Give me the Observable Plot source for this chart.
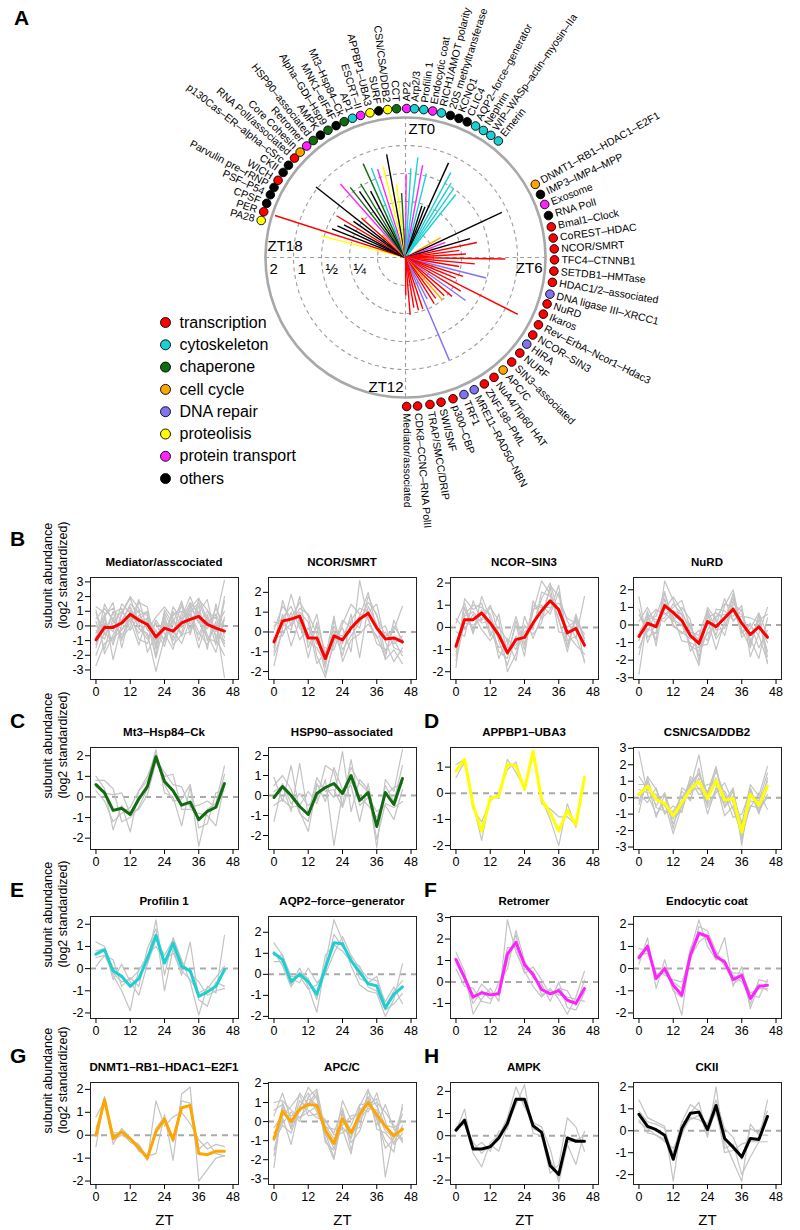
<!DOCTYPE html>
<html><head><meta charset="utf-8">
<script src="https://cdn.jsdelivr.net/npm/d3@7"></script>
<script src="https://cdn.jsdelivr.net/npm/@observablehq/plot@0.6"></script>
<style>
body{margin:0;background:#fff;}
#root{position:relative;width:800px;height:1230px;overflow:hidden;font-family:"Liberation Sans",Arial,sans-serif;}
.abs{position:absolute;}
.letter{font-weight:bold;font-size:21px;font-family:"Liberation Sans",Arial,sans-serif;}
.ptitle{font-weight:bold;font-size:11.5px;text-align:center;font-family:"Liberation Sans Narrow","Arial Narrow","Liberation Sans",sans-serif;white-space:nowrap;}
</style></head>
<body><div id="root"></div>
<script>
// ---------- Panel A data ----------
const categoryNames = ["transcription","cytoskeleton","chaperone","cell cycle","DNA repair","proteolisis","protein transport","others"];
const categoryColors = ["#ff0000","#1ccfd3","#116b11","#ffa500","#7f73f2","#ffff00","#ff22ff","#000000"];

const complexNames = ["PA28","PER","CPSF","PSF–P54","Parvulin pre–rRNP","WICH","CKII","p130Cas–ER–alpha–cSrc","RNA PolI/associated","Core Cohesin","Retromer","HSP90–associated","AMPK","Alpha–GDI–Hsp9","MNK1–eIF4F","Mt3–Hsp84–Ck","AP1","ESCRT–II","APPBP1–UBA3","SURF","CSN/CSA/DDB2","CCT","AP2","Arp2/3","Profilin 1","Endocytic coat","RICH1/AMOT polarity","20S methyltransferase","KCNQ1","CLIC4","AQP2–force–generator","Nephrin","WIP–WASp–actin–myosin–IIa","Emerin",
"DNMT1–RB1–HDAC1–E2F1","IMP3–IMP4–MPP","Exosome","RNA PolI","Bmal1–Clock","CoREST–HDAC","NCOR/SMRT","TFC4–CTNNB1","SETDB1–HMTase","HDAC1/2–associated","DNA ligase III–XRCC1","NuRD","Ikaros","Rev–ErbA–Ncor1–Hdac3","NCOR–SIN3","HIRA","NURF","SIN3–associated","APC/C","NuA4/Tip60 HAT","ZNF198–PML","MRE11–RAD50–NBN","TRF1","p300–CBP","SWI/SNF","TRAP/SMCC/DRIP","CDK8–CCNC–RNA PolII","Mediator/associated"];
const complexCategories = ["proteolisis","transcription","others","others","others","transcription","others","others","transcription","cell cycle","protein transport","chaperone","others","chaperone","others","chaperone","cytoskeleton","protein transport","proteolisis","others","proteolisis","chaperone","protein transport","cytoskeleton","cytoskeleton","protein transport","cytoskeleton","others","others","others","cytoskeleton","cytoskeleton","cytoskeleton","cytoskeleton",
"cell cycle","others","protein transport","others","transcription","transcription","transcription","transcription","transcription","transcription","DNA repair","transcription","transcription","transcription","transcription","DNA repair","transcription","transcription","cell cycle","transcription","transcription","DNA repair","DNA repair","transcription","transcription","transcription","transcription","transcription"];
const complexPhaseZT = [18.96,19.19,19.42,19.66,19.87,20.08,20.32,20.55,20.79,21.0,21.23,21.45,21.68,21.91,22.15,22.38,22.61,22.83,23.08,23.31,23.54,23.77,0.03,0.23,0.47,0.70,0.93,1.17,1.40,1.63,1.87,2.10,2.33,2.57,
4.04,4.33,4.61,4.91,5.21,5.50,5.78,6.06,6.35,6.64,6.95,7.21,7.49,7.79,8.09,8.37,8.66,8.97,9.27,9.57,9.87,10.17,10.46,10.76,11.08,11.37,11.69,11.97];
const complexAmplitude = [0.54,1.86,0.44,0.40,0.35,0.46,0.30,1.05,0.27,0.14,0.71,0.57,0.46,0.53,0.40,0.80,0.67,0.62,0.64,0.84,0.39,0.31,0.49,0.57,0.76,0.64,0.53,0.24,0.24,0.82,0.68,0.54,0.50,0.46,
0.17,0.87,0.18,0.33,0.38,0.24,0.28,0.74,0.35,0.24,0.49,0.28,0.24,1.41,0.31,0.39,0.28,0.24,0.25,0.22,0.24,0.20,0.99,0.24,0.24,0.22,0.26,0.16];

const ringAmplitudes = [0.125,0.25,0.5,1];
const outerAmplitude = 2;
const ringLabelValues = [2,1,0.5,0.25];
const ringLabelTexts = ["2","1","½","¼"];
const ztHours = [0,6,12,18];
const ztTexts = ["ZT0","ZT6","ZT12","ZT18"];

// ---------- Panels B-H data ----------
const timePoints = [0,3,6,9,12,15,18,21,24,27,30,33,36,39,42,45];
const xTicks = [0,12,24,36,48];

const mediatorMean = [-0.95,-0.1,-0.1,0.2,0.8,0.4,0.1,-0.75,-0.15,-0.35,0.2,0.45,0.65,0.1,-0.15,-0.35];
const mediatorGrey = [
[-0.5,0.8,1.2,0.3,1.5,0.9,-0.2,-1.2,0.5,-0.8,0.9,1.2,1.9,0.4,-0.6,-1.0],
[0.9,-0.6,0.2,1.0,0.3,1.1,0.7,-0.4,-0.9,0.4,-0.5,1.5,0.2,1.0,0.5,3.1],
[-2.7,-1.2,-0.8,-0.3,0.6,-0.5,0.3,-2.2,0.2,-1.0,0.1,0.8,-0.4,-1.3,0.3,-3.5],
[-1.5,0.5,-1.3,0.8,1.9,0.2,-0.7,-0.3,-1.4,0.7,1.3,-0.2,1.0,-0.6,-1.8,0.6],
[0.3,-1.6,0.6,-0.8,-0.1,1.6,1.3,-1.6,0.9,-0.3,-1.2,0.4,0.9,1.8,-0.9,-2.0],
[-1.0,0.2,-0.4,1.5,0.9,-0.9,-1.2,0.4,-0.5,-1.6,0.6,2.0,0.5,-0.2,1.2,0.0],
[1.3,0.9,-2.3,0.1,0.5,0.5,0.9,-0.9,-0.1,0.2,1.7,-0.6,1.4,-1.0,0.0,-1.4],
[-0.3,-0.9,1.0,-1.0,1.1,-0.2,-0.5,-3.1,-0.8,1.0,-0.1,1.1,-1.0,0.8,-1.3,1.7],
[0.5,1.2,0.4,-0.6,0.2,1.8,-0.3,0.6,1.3,0.5,-0.7,0.9,1.6,0.2,0.8,-0.5],
[-2.0,-0.4,0.9,1.2,-0.3,0.7,1.0,-1.4,0.3,-0.5,1.5,0.2,-0.6,0.6,-0.2,1.0],
[1.1,-1.9,-0.6,0.4,1.3,-0.1,-0.9,0.2,-1.1,1.3,0.4,1.6,0.8,-1.6,1.5,-0.8],
[-0.8,0.6,1.6,-1.5,0.8,0.3,0.5,-1.0,0.7,-1.3,-0.6,-0.4,1.8,1.1,-0.4,0.4],
[0.0,-0.5,-1.0,0.9,2.0,1.2,-1.8,-0.6,-0.3,0.8,1.0,0.7,-1.5,0.3,0.6,-1.2],
[-1.3,1.5,0.3,-0.2,0.4,-1.3,0.6,-2.0,1.1,0.1,0.3,1.3,0.3,-0.8,-1.1,2.0]];
const ncorSmrtMean = [-0.5,0.55,0.65,0.8,-0.3,-0.3,-1.35,-0.2,-0.4,0.2,0.65,0.95,0.2,-0.35,-0.3,-0.5];
const ncorSmrtGrey = [
[-1.7,0.2,1.9,0.4,-0.5,-0.8,-1.6,0.3,-0.6,0.9,-1.3,1.3,0.4,-1.4,-0.9,-1.6],
[0.1,1.3,0.7,1.5,0.8,-1.2,-2.3,-0.4,0.2,-1.0,2.6,0.6,-0.3,0.0,-0.6,-0.2],
[-1.0,0.9,-0.7,0.6,-1.3,0.5,-1.1,0.1,-1.2,0.5,0.2,1.8,0.8,-0.2,0.1,1.3],
[-0.3,-0.2,1.0,-0.4,0.2,-0.6,-0.8,-0.9,0.4,1.4,0.9,0.7,-0.6,-0.9,-0.4,-1.2],
[0.5,0.4,0.1,1.8,-0.8,0.3,-1.8,0.6,-0.9,-0.2,0.5,1.5,0.9,-1.1,0.3,-0.4],
[-0.8,1.6,0.3,1.0,0.5,-1.6,-1.0,-0.1,-0.2,0.6,1.2,1.0,1.4,-0.5,-1.5,-0.8],
[0.3,0.7,1.3,0.2,-0.3,0.9,-1.3,0.8,-1.5,-0.4,-0.1,0.4,-0.2,-1.3,0.6,-0.6],
[-1.2,0.0,0.4,1.2,0.9,-0.1,-2.1,-0.6,0.6,0.2,0.8,2.0,0.1,0.3,-0.8,-1.0]];
const ncorSin3Mean = [-0.85,0.35,0.35,0.65,0.2,-0.35,-1.15,-0.55,-0.45,0.2,0.75,1.2,0.8,-0.25,-0.05,-0.8];
const ncorSin3Grey = [
[-1.8,1.3,0.8,1.1,-0.2,-0.9,-0.8,0.5,-0.8,0.7,2.1,1.5,0.3,-0.8,0.4,-1.6],
[-0.2,-0.4,1.2,0.3,0.9,0.3,-2.0,-1.2,0.1,-0.3,0.2,1.9,1.4,0.3,-0.5,1.4],
[-1.3,0.9,-0.3,1.4,0.4,-1.1,-1.4,0.3,-1.0,0.8,1.0,0.6,1.6,-0.9,0.6,-0.5],
[0.4,-0.1,0.6,-0.1,-0.6,0.0,-0.6,-1.5,0.5,-0.5,0.5,1.8,-0.2,-0.3,-0.8,-1.2],
[-0.9,0.6,1.0,0.9,0.6,-0.6,-1.7,-0.4,-0.7,1.0,0.9,0.9,1.1,0.4,0.2,-0.9],
[-1.5,0.2,0.1,0.4,1.0,-0.3,-0.9,-0.8,-0.2,0.1,1.3,2.0,0.6,0.0,0.3,-0.3],
[0.2,1.1,-0.2,0.8,-0.4,0.6,-1.2,0.1,-1.3,1.2,0.4,0.8,1.9,-0.6,-0.4,-1.5],
[-1.1,0.5,0.7,0.2,0.3,-1.4,-0.5,-1.0,0.0,-0.1,1.6,1.4,0.4,-1.1,0.5,-0.6]];
const nurdMean = [-0.65,0.1,-0.1,1.1,0.7,0.25,-0.6,-1.05,0.2,-0.1,0.4,0.9,0.1,-0.55,-0.1,-0.7];
const nurdGrey = [
[-2.8,0.5,-0.9,2.5,1.4,0.2,-1.2,-1.5,0.6,-0.6,1.1,2.0,-0.3,-1.3,0.6,-2.2],
[0.6,-0.4,0.8,0.7,0.2,1.0,0.3,-2.1,1.0,0.3,-0.6,1.2,0.8,-0.8,-1.9,0.4],
[-0.9,0.8,-1.2,1.5,-0.1,-0.4,-0.8,-0.3,-0.9,0.9,0.8,0.3,0.5,0.4,0.2,-1.5],
[1.6,-1.0,0.2,0.4,1.2,0.6,-1.5,-0.7,0.3,-1.4,0.2,1.6,-0.7,-0.2,0.7,-0.6],
[-0.4,0.3,0.5,1.9,0.0,-0.5,0.1,-1.8,-0.3,0.5,0.6,0.5,1.1,-1.8,-0.5,1.0],
[-1.3,-0.2,-0.5,0.9,1.6,0.8,-0.4,-0.6,0.9,-0.3,-0.2,1.4,0.1,-0.5,0.0,-1.0],
[0.2,1.0,0.0,1.2,0.5,-0.9,-1.0,-1.3,-0.5,0.0,1.5,0.2,0.9,-1.2,0.6,-1.8],
[-1.7,0.4,0.9,0.6,1.0,1.4,-0.2,-0.9,0.4,0.7,0.3,1.8,-0.4,0.1,-1.3,-0.3],
[0.9,-0.7,-0.4,1.8,0.3,0.0,-1.1,-2.3,0.8,-0.8,0.0,0.8,0.6,-1.0,0.3,0.6],
[-0.6,0.6,0.3,0.2,0.8,0.6,-0.1,-1.2,-1.1,0.4,1.2,1.0,-0.5,0.0,-0.6,-2.1]];
const mt3Mean = [0.6,0.2,-0.65,-0.55,-0.85,-0.1,0.5,1.95,0.75,0.3,-0.4,-0.25,-1.1,-0.7,-0.5,0.65];
const mt3Grey = [
[1.0,0.4,-1.6,-0.4,-1.7,0.3,0.8,2.3,0.2,0.0,-1.4,0.5,-2.4,-0.6,-0.3,1.5],
[0.8,0.8,0.4,-1.2,-1.0,-0.5,0.4,1.8,1.2,0.6,0.5,-0.5,-0.4,-0.2,-0.5,1.1],
[0.3,-0.2,-1.2,-0.8,-0.5,0.3,1.0,2.1,0.6,-0.2,-0.1,0.6,-1.5,-1.3,0.2,0.3],
[0.5,0.2,0.1,0.2,-0.8,-0.6,0.1,1.7,1.0,1.1,-0.6,-0.6,-0.8,-0.9,-1.4,0.6]];
const hsp90Mean = [-0.1,0.45,0,-0.55,-0.95,0.1,0.4,0.6,0.1,1.0,-0.25,0.15,-1.55,0.15,-0.45,0.85];
const hsp90Grey = [
[0.9,-0.3,1.5,-0.8,-1.8,0.5,0.4,-0.1,2.2,-0.8,0.8,0.3,-2.6,0.8,0.2,2.3],
[-1.3,0.6,-0.4,0.1,-0.5,-0.2,1.5,1.2,-0.5,1.8,-0.5,-0.1,-0.8,-0.5,-1.2,0.3],
[0.5,1.0,0.3,-0.9,-1.3,0.6,-0.3,1.4,0.3,0.5,-1.3,0.6,-1.6,0.5,-0.3,1.5],
[-0.5,-0.2,-0.6,-0.5,0.2,-0.4,0.8,-2.5,0.1,1.4,0.6,0.2,-2.2,-0.4,-0.6,-0.3],
[0.2,0.5,-0.8,1.6,-1.0,0.9,0.2,0.3,-0.6,0.7,-0.1,-0.5,-1.1,0.0,0.4,0.6]];
const appbp1Mean = [0.85,1.3,-0.45,-1.45,-0.2,-0.1,1.1,1.05,0.15,1.6,-0.25,-0.75,-1.45,-0.65,-1.2,0.6];
const appbp1Grey = [
[0.6,1.2,-0.4,-1.8,-0.1,-0.2,1.3,0.8,0.2,1.5,-0.2,-1.0,-2.0,-0.4,-1.3,0.5],
[1.1,1.3,-0.6,-1.1,-0.3,0.0,0.9,1.2,0.1,1.6,-0.4,-0.6,-0.9,-0.9,-1.2,0.6]];
const csnMean = [0.2,0.7,-0.1,-0.35,-1.1,-0.3,0.5,1.0,-0.05,1.05,-0.15,-0.05,-2.1,0.2,-0.45,0.7];
const csnGrey = [
[2.8,0.2,-1.0,-0.3,-2.2,-0.5,0.6,2.6,-0.3,1.8,-0.2,0.5,-2.9,0.5,-0.8,0.6],
[-0.9,1.3,0.5,-1.0,-0.5,-0.9,1.3,0.5,0.8,0.9,-1.1,-0.5,-1.6,0.8,0.1,1.9],
[0.8,0.8,-0.5,0.3,-1.3,0.4,-0.2,1.8,-0.6,0.3,0.9,-0.3,-2.4,-0.5,-0.6,0.0],
[0.2,-0.3,0.6,-0.9,-0.8,-0.2,1.1,0.2,0.3,1.6,0.2,-1.2,-1.0,0.4,-1.0,1.2],
[-0.4,1.0,-1.2,0.2,-1.9,0.6,0.2,1.2,-1.0,0.6,-0.5,0.4,-1.9,-0.6,0.3,-0.7],
[0.5,0.3,0.2,-0.5,-1.2,-0.8,0.8,1.4,0.3,1.9,-0.6,0.1,-1.5,-0.2,-0.3,1.0],
[-0.2,1.2,-0.6,-0.8,-0.9,0.1,0.4,0.6,-0.4,0.4,0.4,-0.7,-2.2,0.6,-0.9,0.2],
[1.3,0.5,0.0,0.1,-1.6,-0.4,0.9,1.5,0.2,1.2,-0.3,0.6,-2.6,0.1,-0.2,1.5]];
const profilinMean = [0.65,0.85,-0.1,-0.35,-0.8,-0.45,0.45,1.5,0.25,1.15,0.1,-0.1,-1.25,-1.05,-0.8,-0.05];
const profilinGrey = [
[1.2,1.0,-0.3,-1.0,-1.9,0.0,0.3,2.2,-0.3,1.4,0.4,-0.6,-2.1,-0.8,-1.1,1.5],
[0.1,0.6,0.4,-0.8,-0.4,-0.8,0.9,1.8,-1.0,0.9,-0.3,1.2,-1.4,-1.7,-0.6,-0.8],
[0.8,0.9,-0.5,0.2,-0.6,-1.2,0.2,1.3,0.6,1.3,0.3,-0.2,-0.6,-1.2,-1.0,-0.9],
[0.5,0.6,-0.2,-0.6,-0.5,-0.1,0.6,1.0,0.4,0.7,-0.1,-0.5,-1.1,-0.9,-0.4,0.1]];
const aqp2Mean = [1.0,0.7,-0.35,0.0,-0.35,-0.95,0.3,1.5,1.45,0.65,0.1,-0.45,-0.55,-1.6,-0.95,-0.6];
const aqp2Grey = [
[1.5,0.9,-0.5,0.3,-0.6,-1.8,0.5,2.6,1.6,0.4,-0.5,-0.8,-0.9,-2.0,-1.2,0.5],
[0.6,0.6,-0.2,-0.4,0.3,-0.4,0.0,1.0,1.8,0.9,0.3,-0.2,-0.3,-1.3,-0.6,-1.4],
[1.1,0.4,-0.6,0.1,-0.2,-1.2,0.9,1.4,1.1,0.6,0.4,-0.6,-0.8,-1.7,-1.4,-0.9],
[0.9,0.9,-0.1,-0.1,-0.7,-0.5,0.2,1.9,1.3,0.8,-0.2,-0.4,-0.1,-1.5,-0.8,-0.3]];
const retromerMean = [1.05,0.2,-0.7,-0.5,-0.6,-0.55,1.3,1.85,0.8,0.35,-0.35,-0.55,-0.4,-0.85,-1.0,-0.3];
const retromerGrey = [
[1.4,0.5,-1.5,-0.8,-0.3,-0.9,2.9,1.4,0.5,-0.2,-0.7,-0.3,-0.8,-1.5,-0.7,0.5],
[0.6,-0.2,-0.3,-0.9,-1.0,0.0,0.6,2.4,1.0,0.2,-0.1,-0.9,0.0,-1.2,-1.3,-0.5],
[1.0,0.3,-0.8,-0.1,-0.5,-0.6,1.0,2.2,0.6,0.5,-0.6,-0.4,-0.6,-0.7,-0.8,-0.9],
[0.9,0.1,-1.0,-0.4,-0.8,-0.4,1.6,1.6,0.4,0.7,0.1,-0.6,-0.3,-0.4,-1.1,0.1]];
const endocyticMean = [0.5,1.0,-0.45,0.0,-0.75,-1.2,0.6,1.6,1.45,0.55,0.3,-0.5,-0.3,-1.35,-0.8,-0.75];
const endocyticGrey = [
[0.2,1.4,-0.9,0.4,-0.9,-2.1,0.8,2.2,1.0,0.4,1.4,-0.8,0.1,-1.8,-0.7,-1.0],
[0.9,0.8,-0.2,-0.3,-0.5,-0.6,0.4,1.9,1.7,0.8,0.1,-0.3,-0.6,-1.2,-1.3,-0.5],
[0.4,1.1,-0.5,0.1,-1.0,-1.3,0.5,1.2,1.5,0.4,0.4,-0.7,-0.4,-1.6,-0.5,-0.6],
[0.6,0.7,-0.3,-0.2,-0.6,-0.9,0.9,1.6,1.3,0.7,0.2,-0.2,-0.2,-1.1,-0.9,-0.9]];
const dnmt1Mean = [0.0,1.55,-0.15,0.15,-0.15,-0.55,-1.0,0.15,0.7,-0.2,1.2,1.3,-0.8,-0.85,-0.7,-0.7];
const dnmt1Grey = [
[-0.5,1.7,-0.4,0.3,-0.1,-0.7,-0.9,-0.8,0.9,-1.1,1.8,2.1,-2.0,-1.5,-1.0,-0.9],
[0.8,1.5,0.1,0.1,-0.3,-0.5,-1.1,1.5,0.4,0.8,1.0,0.5,-0.2,-0.6,-0.4,-0.5],
[0.3,1.4,-0.2,0.0,-0.2,-0.4,-1.0,0.3,0.8,-0.3,1.5,1.4,-0.6,-0.3,-0.8,-0.9]];
const apccMean = [-0.9,0.55,0.0,0.65,0.9,0.85,-0.45,-1.15,0.15,-0.6,0.35,1.0,0.35,-0.25,-0.75,-0.4];
const apccGrey = [
[-2.4,1.0,-0.3,1.5,0.9,1.6,-0.9,-2.0,0.6,-1.5,0.2,1.3,0.1,-1.0,-1.6,0.9],
[-1.5,0.2,-1.2,0.8,1.5,0.5,0.1,-0.7,-0.6,-0.2,0.9,0.9,1.2,-2.9,-0.6,-1.0],
[1.0,1.1,0.6,0.2,0.8,1.4,-1.1,-1.5,0.4,-0.5,-0.3,1.6,0.8,-0.2,-0.3,0.0],
[-0.3,0.3,0.8,1.4,0.3,0.4,-0.3,-0.4,-0.4,-1.7,0.7,0.5,1.5,0.0,-1.2,-0.6],
[-1.0,-0.2,-0.6,0.7,1.8,1.2,-0.7,-1.2,1.1,0.1,0.5,1.3,-0.2,0.9,-0.4,-0.9],
[0.3,1.5,0.1,0.2,0.5,0.8,-0.2,-0.9,-0.3,-0.8,0.1,0.7,0.6,-0.5,-0.8,0.7],
[-1.8,0.7,0.3,0.5,1.2,0.9,-0.6,-1.9,0.2,-0.9,0.8,1.7,-0.4,-0.6,-1.1,-0.2],
[0.6,0.9,-0.4,1.1,0.6,0.2,0.0,-0.6,0.7,-1.1,-0.5,0.8,1.0,0.5,-0.2,-1.1],
[-0.6,-0.1,0.5,0.0,1.3,1.7,-0.5,-1.4,-0.2,0.3,0.4,1.1,0.2,-1.4,-0.9,0.4]];
const ampkMean = [0.25,0.7,-0.6,-0.6,-0.5,-0.1,0.55,1.65,1.65,0.45,0.15,-1.35,-1.75,-0.1,-0.25,-0.25];
const ampkGrey = [
[0.2,1.2,-0.8,-1.4,-0.3,0.0,0.8,2.2,1.3,0.6,0.4,-0.6,-2.1,-0.4,-1.3,0.2],
[0.4,0.5,-0.3,-0.8,-0.4,-0.7,0.5,1.4,2.3,0.1,0.0,-1.7,-1.3,0.8,0.4,-0.7],
[0.3,0.6,-0.6,-0.3,-0.7,0.2,0.3,1.7,1.5,0.3,0.2,-1.1,-1.9,-0.3,-0.2,0.0]];
const ckiiMean = [0.75,0.2,0.05,-0.2,-1.3,0.1,0.8,0.85,0.05,1.15,-0.35,-0.75,-1.2,-0.35,-0.4,0.65];
const ckiiGrey = [
[1.4,0.6,0.4,0.2,-2.3,0.4,1.2,0.9,-0.3,2.0,-0.8,-0.6,-2.0,-1.2,-0.5,1.4],
[0.4,0.1,-0.2,-0.5,-0.8,-0.1,0.6,0.5,0.2,0.8,-0.5,-1.4,-2.3,0.3,-0.2,-0.2],
[0.9,0.4,0.3,0.1,-1.2,-0.2,0.8,1.3,-0.2,1.0,-1.0,-0.9,-0.6,-0.5,-0.5,-0.5],
[0.5,-0.1,-0.2,-0.4,-1.0,0.4,0.5,0.7,0.3,1.4,0.1,-0.3,-1.3,0.1,-0.1,0.9]];

const panelTitles = ["Mediator/asscociated","NCOR/SMRT","NCOR–SIN3","NuRD","Mt3–Hsp84–Ck","HSP90–associated","APPBP1–UBA3","CSN/CSA/DDB2","Profilin 1","AQP2–force–generator","Retromer","Endocytic coat","DNMT1–RB1–HDAC1–E2F1","APC/C","AMPK","CKII"];
const panelCategories = ["transcription","transcription","transcription","transcription","chaperone","chaperone","proteolisis","proteolisis","cytoskeleton","cytoskeleton","protein transport","protein transport","cell cycle","cell cycle","others","others"];
const panelMeans = [mediatorMean,ncorSmrtMean,ncorSin3Mean,nurdMean,mt3Mean,hsp90Mean,appbp1Mean,csnMean,profilinMean,aqp2Mean,retromerMean,endocyticMean,dnmt1Mean,apccMean,ampkMean,ckiiMean];
const panelGreys = [mediatorGrey,ncorSmrtGrey,ncorSin3Grey,nurdGrey,mt3Grey,hsp90Grey,appbp1Grey,csnGrey,profilinGrey,aqp2Grey,retromerGrey,endocyticGrey,dnmt1Grey,apccGrey,ampkGrey,ckiiGrey];
const panelYTicks = [[-3,-2,-1,0,1,2,3],[-2,-1,0,1,2],[-2,-1,0,1,2],[-3,-2,-1,0,1,2],[-2,-1,0,1,2],[-2,-1,0,1,2],[-2,-1,0,1],[-3,-2,-1,0,1,2,3],[-2,-1,0,1,2],[-2,-1,0,1,2],[-1,0,1,2,3],[-2,-1,0,1,2],[-2,-1,0,1,2],[-3,-2,-1,0,1,2],[-2,-1,0,1,2],[-2,-1,0,1,2]];
const panelYDomains = [[-3.65,3.3],[-2.4,2.75],[-2.35,2.25],[-3.1,2.7],[-2.55,2.4],[-2.7,2.4],[-2.15,1.75],[-3.15,3.05],[-2.25,2.35],[-2.1,2.75],[-1.7,3.05],[-2.25,2.35],[-2.15,2.3],[-3.3,2.05],[-2.2,2.4],[-2.45,2.2]];

// ---------- Layout ----------
const root = document.getElementById("root");
const colorOf = c => categoryColors[categoryNames.indexOf(c)];
const narrow = '"Liberation Sans Narrow","Arial Narrow","Liberation Sans",sans-serif';

function place(el, left, top) {
  const d = document.createElement("div");
  d.className = "abs"; d.style.left = left + "px"; d.style.top = top + "px";
  d.appendChild(el); root.appendChild(d); return d;
}
function textDiv(txt, cls, left, top, width) {
  const d = document.createElement("div");
  d.className = "abs " + cls; d.textContent = txt;
  d.style.left = left + "px"; d.style.top = top + "px";
  if (width) d.style.width = width + "px";
  root.appendChild(d); return d;
}

// ---------- Panel A ----------
const R = d3.scaleLog().domain([1/16, 2]).range([0, 140]);
const rOuter = R(outerAmplitude);
const ang = h => h / 24 * 2 * Math.PI;
const px = (h, r) => r * Math.sin(ang(h));
const py = (h, r) => r * Math.cos(ang(h));
const signedDeg = h => { const a = h * 15; return a > 180 ? a - 360 : a; };
const complexes = complexNames.map((name, i) => ({name, cat: complexCategories[i], phase: complexPhaseZT[i], amp: complexAmplitude[i]}));
const leftSide = complexes.filter(d => signedDeg(d.phase) <= 0);
const rightSide = complexes.filter(d => signedDeg(d.phase) > 0);
const ringLabels = ringLabelValues.map((v, i) => ({v, t: ringLabelTexts[i]}));
const legendRows = categoryNames.map((c, i) => ({c, i}));
const gridStroke = "#9c9c9c";

const plotA = Plot.plot({
  width: 800, height: 530, margin: 0,
  x: {domain: [-405, 395], range: [0, 800], axis: null},
  y: {domain: [-273, 257], range: [530, 0], axis: null},
  r: {type: "identity"},
  color: {type: "identity"},
  style: {background: "transparent", overflow: "visible", fontFamily: '"Liberation Sans",Arial,sans-serif'},
  marks: [
    Plot.dot(ringAmplitudes, {x: () => 0, y: () => 0, r: v => R(v), fill: "none", stroke: gridStroke, strokeWidth: 1.1, strokeDasharray: "4,3.5"}),
    Plot.ruleX([0], {y1: -rOuter, y2: rOuter, stroke: gridStroke, strokeWidth: 1.1, strokeDasharray: "4,3.5"}),
    Plot.ruleY([0], {x1: -rOuter, x2: rOuter, stroke: gridStroke, strokeWidth: 1.1, strokeDasharray: "4,3.5"}),
    Plot.dot([outerAmplitude], {x: () => 0, y: () => 0, r: v => R(v), fill: "none", stroke: "#a8a8a8", strokeWidth: 2.6}),
    Plot.link(complexes, {x1: () => 0, y1: () => 0, x2: d => px(d.phase, R(d.amp)), y2: d => py(d.phase, R(d.amp)), stroke: d => colorOf(d.cat), strokeWidth: 1.4}),
    Plot.text(leftSide, {x: d => px(d.phase, 156), y: d => py(d.phase, 156), text: "name", rotate: d => signedDeg(d.phase) + 90, textAnchor: "end", lineAnchor: "middle", fontSize: 10.5, fill: "black"}),
    Plot.text(rightSide, {x: d => px(d.phase, 156), y: d => py(d.phase, 156), text: "name", rotate: d => signedDeg(d.phase) - 90, textAnchor: "start", lineAnchor: "middle", fontSize: 10.5, fill: "black"}),
    Plot.dot(complexes, {x: d => px(d.phase, 149), y: d => py(d.phase, 149), r: () => 4.3, fill: d => colorOf(d.cat), stroke: "black", strokeWidth: 0.9}),
    Plot.text(ringLabels, {x: d => -R(d.v), y: () => 0, text: "t", dx: 4, dy: 12, textAnchor: "start", fontSize: 15, fill: "black"}),
    Plot.text([ztTexts[0]], {x: () => 0, y: () => rOuter, dx: 3, dy: 12, textAnchor: "start", fontSize: 15, fill: "black"}),
    Plot.text([ztTexts[1]], {x: () => rOuter, y: () => 0, dx: -3, dy: 11, textAnchor: "end", fontSize: 15, fill: "black"}),
    Plot.text([ztTexts[2]], {x: () => 0, y: () => -rOuter, dx: -2, dy: -10, textAnchor: "end", fontSize: 15, fill: "black"}),
    Plot.text([ztTexts[3]], {x: () => -rOuter, y: () => 0, dx: 2, dy: -11, textAnchor: "start", fontSize: 15, fill: "black"}),
    Plot.dot(legendRows, {x: () => -240, y: d => -65 - 22.3 * d.i, r: () => 5, fill: d => categoryColors[d.i], stroke: "black", strokeWidth: 0.9}),
    Plot.text(legendRows, {x: () => -240, y: d => -65 - 22.3 * d.i, text: "c", dx: 14, textAnchor: "start", fontSize: 16, fill: "black"})
  ]
});
place(plotA, 0, 0);
textDiv("A", "letter", 14, 6);

// ---------- Small multiples ----------
const frameLefts = [90, 268, 450, 633];
const frameTops = [577, 747, 916, 1082];
const frameW = 148, frameH = 102;
const mL = 30, mR = 6, mT = 6, mB = 24;

function smallPanel(idx) {
  const row = Math.floor(idx / 4), col = idx % 4;
  const greyData = panelGreys[idx].flatMap((s, k) => s.map((v, i) => ({t: timePoints[i], v, k})));
  const meanData = panelMeans[idx].map((v, i) => ({t: timePoints[i], v}));
  const marks = [
    Plot.ruleY([0], {stroke: "#a9a9a9", strokeWidth: 2, strokeDasharray: "6,5"}),
    Plot.line(greyData, {x: "t", y: "v", z: "k", stroke: "#c3c3c3", strokeWidth: 1.2}),
    Plot.line(meanData, {x: "t", y: "v", stroke: colorOf(panelCategories[idx]), strokeWidth: 3}),
    Plot.frame({stroke: "#222", strokeWidth: 1}),
    Plot.axisX({ticks: xTicks, tickSize: 5, tickPadding: 3, tickFormat: d => String(d), label: null, fontSize: 12.5}),
    Plot.axisY({ticks: panelYTicks[idx], tickSize: 5, tickPadding: 2, tickFormat: d => String(d), label: null, fontSize: 12.5})
  ];
  if (col === 0) marks.push(Plot.text(["subunit abundance\n(log2 standardized)"], {frameAnchor: "left", rotate: -90, dx: -36, fontSize: 12.5, lineHeight: 1.2, fontFamily: '"Liberation Sans",Arial,sans-serif', fill: "black"}));
  if (row === 3) marks.push(Plot.text(["ZT"], {frameAnchor: "bottom", dy: 40, fontSize: 15, fill: "black"}));
  const p = Plot.plot({
    width: frameW + mL + mR, height: frameH + mT + mB,
    marginLeft: mL, marginRight: mR, marginTop: mT, marginBottom: mB,
    x: {domain: [-1.92, 49.92]},
    y: {domain: panelYDomains[idx]},
    style: {background: "transparent", overflow: "visible", fontFamily: narrow, color: "black"},
    marks
  });
  place(p, frameLefts[col] - mL, frameTops[row] - mT);
  textDiv(panelTitles[idx], "ptitle", frameLefts[col] - 20, frameTops[row] - 21, frameW + 40);
}
for (let i = 0; i < 16; i++) smallPanel(i);

textDiv("B", "letter", 10, frameTops[0] - 50);
textDiv("C", "letter", 10, frameTops[1] - 38);
textDiv("D", "letter", 424, frameTops[1] - 38);
textDiv("E", "letter", 10, frameTops[2] - 38);
textDiv("F", "letter", 424, frameTops[2] - 38);
textDiv("G", "letter", 10, frameTops[3] - 38);
textDiv("H", "letter", 424, frameTops[3] - 38);
</script></body></html>
